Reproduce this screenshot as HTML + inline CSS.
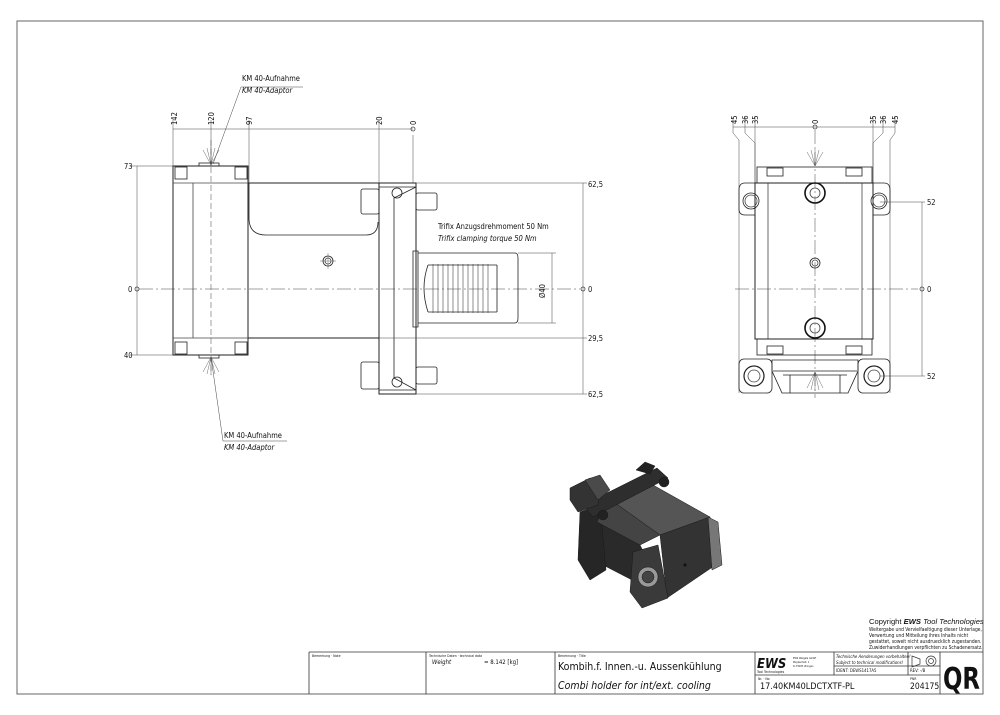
<!DOCTYPE html>
<html><head><meta charset="utf-8"><style>
html,body{margin:0;padding:0;background:#fff;width:1000px;height:715px;overflow:hidden}
svg{display:block}
text{font-family:"DejaVu Sans Condensed","DejaVu Sans","Liberation Sans",sans-serif;fill:#111}
</style></head><body>
<svg width="1000" height="715" viewBox="0 0 1000 715" xmlns="http://www.w3.org/2000/svg">
<g fill="none" stroke="#444" stroke-width="0.8">
<rect x="17" y="21" width="966" height="673" stroke="#666" stroke-width="1"/>

<!-- LEFT VIEW -->
<line x1="173" y1="129" x2="413" y2="129" stroke-width="0.5"/>
<line x1="173" y1="120" x2="173" y2="166" stroke-width="0.5"/>
<line x1="211" y1="120" x2="211" y2="166" stroke-width="0.5" />
<line x1="249" y1="120" x2="249" y2="183" stroke-width="0.5"/>
<line x1="379" y1="120" x2="379" y2="183" stroke-width="0.5"/>
<line x1="413" y1="135" x2="413" y2="183" stroke-width="0.5"/>
<circle cx="413" cy="129" r="2"/>
<line x1="137" y1="166" x2="137" y2="355" stroke-width="0.5"/>
<line x1="130" y1="166" x2="175" y2="166" stroke-width="0.5"/>
<line x1="130" y1="355" x2="175" y2="355" stroke-width="0.5"/>
<circle cx="137" cy="289" r="2"/>
<line x1="139" y1="289" x2="580" y2="289" stroke-width="0.5" stroke-dasharray="14,3,2,3"/>
<line x1="211" y1="140" x2="211" y2="375" stroke-width="0.5" stroke-dasharray="6,3"/>
<rect x="173" y="166" width="75" height="189" stroke="#222" stroke-width="1"/>
<line x1="193" y1="183" x2="193" y2="338"/>
<line x1="173" y1="183" x2="248" y2="183"/>
<line x1="173" y1="338" x2="248" y2="338"/>
<rect x="175" y="167" width="12" height="12" fill="#fff" stroke="#222"/>
<rect x="235" y="167" width="12" height="12" fill="#fff" stroke="#222"/>
<rect x="175" y="342" width="12" height="12" fill="#fff" stroke="#222"/>
<rect x="235" y="342" width="12" height="12" fill="#fff" stroke="#222"/>
<rect x="199" y="163" width="20" height="3" stroke="#222"/>
<rect x="199" y="355" width="20" height="3" stroke="#222"/>
<path d="M248 183 H379 M248 338 H379" stroke="#222" stroke-width="1"/>
<path d="M249 183 V218 Q249 235 266 235 H366 Q378 235 378 222" stroke="#222"/>
<circle cx="328" cy="261" r="5" stroke="#222"/><circle cx="328" cy="261" r="3"/>
<line x1="320" y1="261" x2="336" y2="261" stroke-width="0.4"/><line x1="328" y1="253" x2="328" y2="269" stroke-width="0.4"/>
<rect x="379" y="183" width="37" height="211" stroke="#222" stroke-width="1"/>
<path d="M379 187 H416 L394 198 V378 L416 390 H379" stroke="#222"/>
<circle cx="397" cy="193" r="5" stroke="#222"/><circle cx="397" cy="382" r="5" stroke="#222"/>
<rect x="361" y="189" width="18" height="25" rx="2" stroke="#222"/>
<rect x="416" y="193" width="21" height="17" rx="2" stroke="#222"/>
<rect x="361" y="362" width="18" height="27" rx="2" stroke="#222"/>
<rect x="416" y="367" width="21" height="17" rx="2" stroke="#222"/>
<path d="M413 251 H418 V327 H413 Z" stroke="#222"/>
<path d="M418 253 H515 Q518 253 518 258 V318 Q518 323 515 323 H418" stroke="#222"/>
<path d="M428 265 H497 M428 312 H497 M497 265 V312 M428 265 Q420 288 428 312" stroke="#222"/>
<g stroke-width="0.6">
<line x1="433" y1="264" x2="433" y2="313"/><line x1="438" y1="264" x2="438" y2="313"/><line x1="443" y1="264" x2="443" y2="313"/><line x1="448" y1="264" x2="448" y2="313"/><line x1="453" y1="264" x2="453" y2="313"/><line x1="458" y1="264" x2="458" y2="313"/><line x1="463" y1="264" x2="463" y2="313"/><line x1="468" y1="264" x2="468" y2="313"/><line x1="473" y1="264" x2="473" y2="313"/><line x1="478" y1="264" x2="478" y2="313"/><line x1="483" y1="264" x2="483" y2="313"/><line x1="488" y1="264" x2="488" y2="313"/>
</g>
<line x1="552" y1="253" x2="552" y2="323" stroke-width="0.5"/>
<line x1="518" y1="253" x2="556" y2="253" stroke-width="0.5"/><line x1="518" y1="323" x2="556" y2="323" stroke-width="0.5"/>
<line x1="583" y1="183" x2="583" y2="394" stroke-width="0.5"/>
<line x1="416" y1="183" x2="587" y2="183" stroke-width="0.5"/>
<line x1="416" y1="394" x2="587" y2="394" stroke-width="0.5"/>
<line x1="379" y1="338" x2="587" y2="338" stroke-width="0.5"/>
<circle cx="583" cy="289" r="2"/>
<path d="M241 87 H303 M241 87 L213 164" stroke-width="0.5"/>
<path d="M223 441 H287 M223 441 L211 357" stroke-width="0.5"/>
<path d="M211 165 L203 150 M211 165 L207 148 M211 165 L211 147 M211 165 L215 148 M211 165 L219 150" stroke-width="0.4"/>
<path d="M211 357 L203 372 M211 357 L207 374 M211 357 L211 375 M211 357 L215 374 M211 357 L219 372" stroke-width="0.4"/>

<!-- RIGHT VIEW -->
<line x1="733" y1="127" x2="895" y2="127" stroke-width="0.5"/>
<path d="M733 117 V133 L739 140 V393" stroke-width="0.5"/>
<path d="M745 117 V133 L755 143 V183" stroke-width="0.5"/>
<path d="M755 117 V183" stroke-width="0.5"/>
<path d="M895 117 V133 L890 140 V393" stroke-width="0.5"/>
<path d="M883 117 V133 L873 143 V183" stroke-width="0.5"/>
<path d="M873 117 V183" stroke-width="0.5"/>
<circle cx="815" cy="127" r="2"/>
<line x1="815" y1="130" x2="815" y2="398" stroke-width="0.5" stroke-dasharray="14,3,2,3"/>
<line x1="735" y1="289" x2="918" y2="289" stroke-width="0.5" stroke-dasharray="14,3,2,3"/>
<rect x="755" y="183" width="118" height="156" stroke="#222" stroke-width="1"/>
<line x1="768" y1="183" x2="768" y2="339"/><line x1="862" y1="183" x2="862" y2="339"/>
<rect x="757" y="167" width="115" height="16" stroke="#222"/>
<rect x="757" y="339" width="115" height="16" stroke="#222"/>
<rect x="767" y="168" width="16" height="8" stroke="#222"/><rect x="846" y="168" width="16" height="8" stroke="#222"/>
<rect x="767" y="346" width="16" height="8" stroke="#222"/><rect x="846" y="346" width="16" height="8" stroke="#222"/>
<path d="M755 183 H745 Q739 183 739 190 V209 Q739 215 745 215 H755" stroke="#222"/>
<path d="M873 183 H884 Q890 183 890 190 V209 Q890 215 884 215 H873" stroke="#222"/>
<circle cx="751" cy="201" r="8" stroke="#222"/><circle cx="751" cy="201" r="6"/>
<circle cx="879" cy="201" r="8" stroke="#222"/><circle cx="879" cy="201" r="6"/>
<rect x="739" y="359" width="33" height="34" rx="5" stroke="#222"/>
<rect x="858" y="359" width="32" height="34" rx="5" stroke="#222"/>
<circle cx="754" cy="376" r="10" stroke="#222" stroke-width="1.2"/><circle cx="754" cy="376" r="6"/>
<circle cx="874" cy="376" r="10" stroke="#222" stroke-width="1.2"/><circle cx="874" cy="376" r="6"/>
<path d="M772 360 H858 V371 L848 393 H782 L772 371 Z" stroke="#222"/>
<path d="M773 371 H857 M783 375 H847 M790 375 V393 M840 375 V393" stroke="#222"/>
<circle cx="815" cy="193" r="10" stroke="#111" stroke-width="1.6"/><circle cx="815" cy="193" r="5"/>
<circle cx="815" cy="328" r="10" stroke="#111" stroke-width="1.6"/><circle cx="815" cy="328" r="5"/>
<circle cx="815" cy="263" r="5" stroke="#222"/><circle cx="815" cy="263" r="3"/>
<path d="M815 166 L807 152 M815 166 L811 150 M815 166 L815 149 M815 166 L819 150 M815 166 L823 152" stroke-width="0.4"/>
<path d="M815 372 L807 388 M815 372 L811 390 M815 372 L815 391 M815 372 L819 390 M815 372 L823 388" stroke-width="0.4"/>
<line x1="922" y1="202" x2="922" y2="376" stroke-width="0.5"/>
<line x1="880" y1="202" x2="925" y2="202" stroke-width="0.5"/>
<line x1="880" y1="376" x2="925" y2="376" stroke-width="0.5"/>
<circle cx="922" cy="289" r="2"/>

<g stroke="#333" stroke-width="0.8">
<path d="M309 652 H983 M309 652 V694 M426 652 V694 M555 652 V694 M755 652 V694 M834 652 V675 M908 652 V675 M940 652 V694 M834 666 H908 M908 666 H940 M755 675 H940"/>
</g>
</g>

<!-- 3D render -->
<g stroke="#1a1a1a" stroke-width="0.5">
<!-- left side face -->
<polygon points="597,522 640,545 667,598 603,565" fill="#2a2a2a"/>
<polygon points="580,512 600,505 606,570 590,580 578,560" fill="#262626"/>
<!-- top face -->
<polygon points="608,498 653,485 710,517 660,535" fill="#555"/>
<polygon points="597,522 608,498 660,535 640,545" fill="#444"/>
<!-- front face -->
<polygon points="660,535 710,517 720,562 667,598" fill="#333"/>
<polygon points="708,517 718,522 722,565 712,570" fill="#777"/>
<!-- flange -->
<polygon points="633,552 658,545 668,598 642,608 630,592" fill="#3a3a3a"/>
<circle cx="648" cy="577" r="10" fill="#999"/>
<circle cx="648" cy="577" r="6" fill="#444"/>
<!-- top bar -->
<polygon points="583,505 657,468 668,478 593,517" fill="#2e2e2e"/>
<polygon points="636,470 645,462 655,466 650,474" fill="#222"/>
<!-- shank -->
<polygon points="570,488 590,478 600,485 598,505 578,512 570,500" fill="#333"/>
<polygon points="585,480 600,475 610,490 598,500" fill="#4a4a4a"/>
<circle cx="603" cy="515" r="5" fill="#222"/>
<circle cx="664" cy="482" r="5" fill="#222"/>
<circle cx="685" cy="565" r="1.5" fill="#111"/>
</g>

<g font-size="7.5">
<text x="242" y="81">KM 40-Aufnahme</text>
<text x="242" y="93" font-style="italic">KM 40-Adaptor</text>
<text x="224" y="438">KM 40-Aufnahme</text>
<text x="224" y="450" font-style="italic">KM 40-Adaptor</text>
<text x="438" y="229">Trifix Anzugsdrehmoment  50 Nm</text>
<text x="438" y="241" font-style="italic">Trifix clamping torque  50 Nm</text>
<text x="588" y="187">62,5</text>
<text x="588" y="292">0</text>
<text x="588" y="341">29,5</text>
<text x="588" y="397">62,5</text>
<text x="124" y="169">73</text>
<text x="128" y="292">0</text>
<text x="124" y="358">40</text>
<text x="927" y="205">52</text>
<text x="927" y="292">0</text>
<text x="927" y="379">52</text>
<text transform="translate(545,298) rotate(-90)">Ø40</text>
<text transform="translate(177,125) rotate(-90)">142</text>
<text transform="translate(214,125) rotate(-90)">120</text>
<text transform="translate(252,125) rotate(-90)">97</text>
<text transform="translate(382,125) rotate(-90)">20</text>
<text transform="translate(416,125) rotate(-90)">0</text>
<text transform="translate(737,124) rotate(-90)">45</text>
<text transform="translate(748,124) rotate(-90)">36</text>
<text transform="translate(758,124) rotate(-90)">35</text>
<text transform="translate(818,124) rotate(-90)">0</text>
<text transform="translate(876,124) rotate(-90)">35</text>
<text transform="translate(886,124) rotate(-90)">36</text>
<text transform="translate(898,124) rotate(-90)">45</text>
</g>
<text x="869" y="624" font-size="7.6" style="font-family:'Liberation Sans',sans-serif">Copyright <tspan font-weight="bold" font-style="italic">EWS</tspan> <tspan font-style="italic">Tool Technologies</tspan></text>
<g font-size="4.9" style="font-family:'Liberation Sans',sans-serif">
<text x="869" y="631">Weitergabe und Vervielfaeltigung dieser Unterlage,</text>
<text x="869" y="637">Verwertung und Mitteilung ihres Inhalts nicht</text>
<text x="869" y="643">gestattet, soweit nicht ausdruecklich zugestanden.</text>
<text x="869" y="649">Zuwiderhandlungen verpflichten zu Schadenersatz.</text>
</g>
<g font-size="3.5">
<text x="312" y="657">Bemerkung · Note</text>
<text x="429" y="657">Technische Daten · technical data</text>
<text x="558" y="657">Benennung · Title</text>
<text x="758" y="680">Nr. · No</text>
<text x="910" y="680">PNR</text>
</g>
<text x="432" y="664" font-size="6" font-style="italic">Weight</text>
<text x="484" y="664" font-size="6">=  8.142  [kg]</text>
<text x="558" y="670" font-size="10.5">Kombih.f. Innen.-u. Aussenkühlung</text>
<text x="558" y="689" font-size="10.5" font-style="italic">Combi holder for int/ext. cooling</text>
<text x="757" y="668" font-size="13" font-weight="bold" font-style="italic">EWS</text>
<text x="757" y="673" font-size="3.5">Tool Technologies</text>
<text x="793" y="659" font-size="2.6">EWS Weigele GmbH</text>
<text x="793" y="663" font-size="2.6">Maybachstr. 1</text>
<text x="793" y="667" font-size="2.6">D-73095 Uhingen</text>
<text x="836" y="658" font-size="4.3" font-style="italic">Technische Aenderungen vorbehalten!</text>
<text x="836" y="664" font-size="4.3" font-style="italic">Subject to technical modifications!</text>
<text x="836" y="672" font-size="4.3">IDENT:  DEWS1417A5</text>
<text x="910" y="672" font-size="4.3">REV:  -/B</text>
<text x="760" y="689" font-size="9">17.40KM40LDCTXTF-PL</text>
<text x="910" y="689" font-size="8.5">204175</text>
<text x="943" y="689" font-size="30" font-weight="bold" textLength="37" lengthAdjust="spacingAndGlyphs">QR</text>
<g fill="none" stroke="#333" stroke-width="0.7">
<path d="M912 656 L920 659 V664 L912 667 Z"/>
<circle cx="931" cy="661" r="5"/><circle cx="931" cy="661" r="2.5"/>
</g>
</svg>
</body></html>
